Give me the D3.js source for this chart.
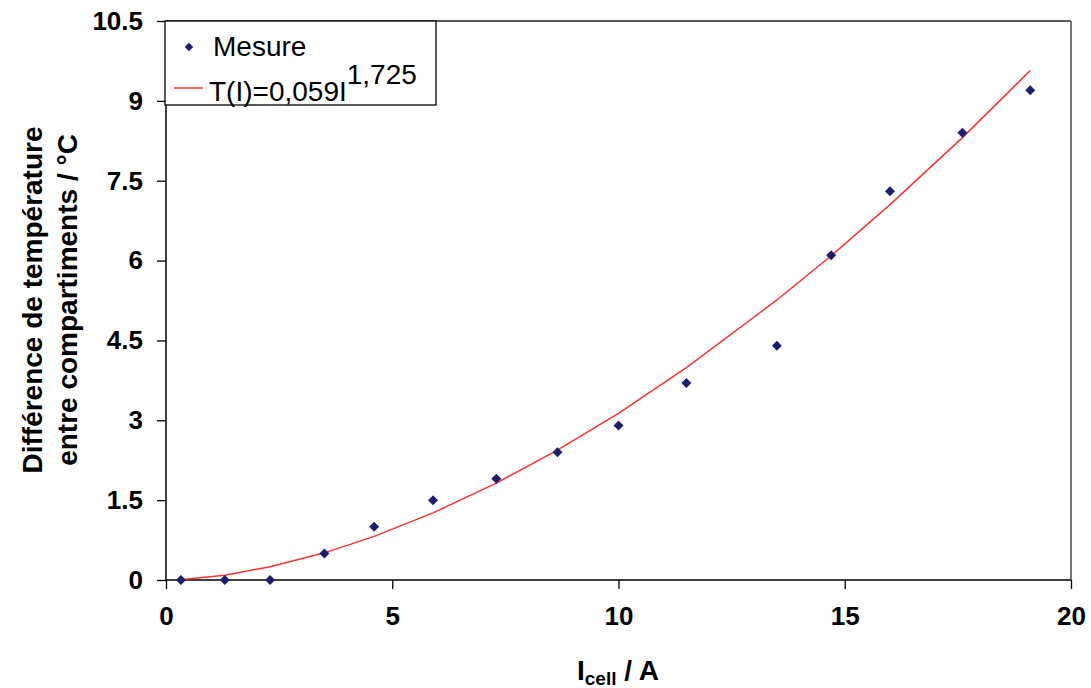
<!DOCTYPE html>
<html>
<head>
<meta charset="utf-8">
<script src="https://cdn.jsdelivr.net/npm/d3@7"></script>
<style>
  html, body { margin: 0; padding: 0; background: #fff; }
  svg { display: block; font-family: "Liberation Sans", Arial, sans-serif; }
</style>
</head>
<body>
<svg id="chart" width="1091" height="688"></svg>
<script>
// Measured points (I in A, ΔT in °C)
const measureI = [0.33, 1.3, 2.3, 3.5, 4.6, 5.9, 7.3, 8.65, 10.0, 11.5, 13.5, 14.7, 16.0, 17.6, 19.1];
const measureT = [0, 0, 0, 0.5, 1.0, 1.5, 1.9, 2.4, 2.9, 3.7, 4.4, 6.1, 7.3, 8.4, 9.2];
// Trend line (polyline vertices)
const fitI = [0.35, 1.3, 2.3, 3.5, 4.6, 5.9, 7.3, 8.65, 10.0, 11.5, 13.5, 14.7, 16.0, 17.6, 19.1];
const fitT = [0.01, 0.09, 0.25, 0.51, 0.82, 1.26, 1.82, 2.44, 3.13, 3.99, 5.26, 6.09, 7.05, 8.31, 9.57];
const xTicks = [0, 5, 10, 15, 20];
const yTicks = [0, 1.5, 3, 4.5, 6, 7.5, 9, 10.5];
const yTickLabels = ["0", "1.5", "3", "4.5", "6", "7.5", "9", "10.5"];
const legendLabels = ["Mesure", "T(I)=0,059I", "1,725"];

(function () {
const svg = d3.select("#chart");
const mLeft = 166, mRight = 1071, mTop = 21, mBottom = 580;
const x = d3.scaleLinear().domain([0, 20]).range([mLeft, mRight]);
const y = d3.scaleLinear().domain([0, 10.5]).range([mBottom, mTop]);

// Plot frame (top & right)
svg.append("line").attr("x1", mLeft).attr("x2", mRight).attr("y1", mTop).attr("y2", mTop)
  .attr("stroke", "#222").attr("stroke-width", 1.5);
svg.append("line").attr("x1", mRight).attr("x2", mRight).attr("y1", mTop).attr("y2", mBottom)
  .attr("stroke", "#777").attr("stroke-width", 2);

// Axes
const xAxis = d3.axisBottom(x).tickValues(xTicks).tickSize(9).tickPadding(18).tickFormat(d3.format("d"));
const gx = svg.append("g").attr("transform", `translate(0,${mBottom})`).call(xAxis);
gx.select(".domain").attr("stroke", "#000").attr("stroke-width", 1.5).attr("d", `M${mLeft},0H${mRight}`);
gx.selectAll(".tick line").attr("stroke", "#000").attr("stroke-width", 1.3);
gx.selectAll(".tick text").attr("font-size", 26).attr("font-weight", "bold").attr("fill", "#000")
  .attr("font-family", "Liberation Sans, Arial, sans-serif");

const yAxis = d3.axisLeft(y).tickValues(yTicks).tickSize(9).tickPadding(14)
  .tickFormat((d, i) => yTickLabels[i]);
const gy = svg.append("g").attr("transform", `translate(${mLeft},0)`).call(yAxis);
gy.select(".domain").attr("stroke", "#000").attr("stroke-width", 1.5).attr("d", `M0,${mBottom}V${mTop}`);
gy.selectAll(".tick line").attr("stroke", "#000").attr("stroke-width", 1.3);
gy.selectAll(".tick text").attr("font-size", 26).attr("font-weight", "bold").attr("fill", "#000")
  .attr("font-family", "Liberation Sans, Arial, sans-serif");

// Trend line
const fitData = fitI.map((d, i) => [d, fitT[i]]);
svg.append("path").datum(fitData)
  .attr("fill", "none").attr("stroke", "#ff3030").attr("stroke-width", 1.5)
  .attr("d", d3.line().x(d => x(d[0])).y(d => y(d[1])));

// Points (square rotated 45° = Excel diamond)
const diamond = d3.symbol().type(d3.symbolSquare).size(50);
svg.append("g").selectAll("path").data(measureI.map((d, i) => [d, measureT[i]])).join("path")
  .attr("d", diamond)
  .attr("transform", d => `translate(${x(d[0])},${y(d[1])}) rotate(45)`)
  .attr("fill", "#1e1e6e");

// Legend
const lg = svg.append("g");
lg.append("rect").attr("x", 165).attr("y", mTop).attr("width", 271).attr("height", 84)
  .attr("fill", "#fff").attr("stroke", "#000").attr("stroke-width", 1.3);
lg.append("path").attr("d", d3.symbol().type(d3.symbolSquare).size(36))
  .attr("transform", "translate(189,47) rotate(45)").attr("fill", "#1e1e6e");
lg.append("text").attr("x", 213).attr("y", 56).attr("font-size", 28).text(legendLabels[0]);
lg.append("line").attr("x1", 174).attr("x2", 203).attr("y1", 88).attr("y2", 88)
  .attr("stroke", "#ff3030").attr("stroke-width", 1.5);
const t2 = lg.append("text").attr("x", 209).attr("y", 101).attr("font-size", 28);
t2.append("tspan").text(legendLabels[1]);
t2.append("tspan").attr("dy", -17).text(legendLabels[2]);

// Y title
const yt = svg.append("text").attr("transform", "translate(0,300) rotate(-90)")
  .attr("text-anchor", "middle").attr("font-size", 28).attr("font-weight", "bold");
yt.append("tspan").attr("x", 0).attr("y", 42).text("Différence de température");
yt.append("tspan").attr("x", 0).attr("y", 77).text("entre compartiments / °C");

// X title
const xt = svg.append("text").attr("x", 618).attr("y", 680).attr("text-anchor", "middle")
  .attr("font-size", 28).attr("font-weight", "bold");
xt.append("tspan").text("I");
xt.append("tspan").attr("font-size", 19).attr("dy", 5).text("cell");
xt.append("tspan").attr("dy", -5).text(" / A");
})();
</script>
</body>
</html>
